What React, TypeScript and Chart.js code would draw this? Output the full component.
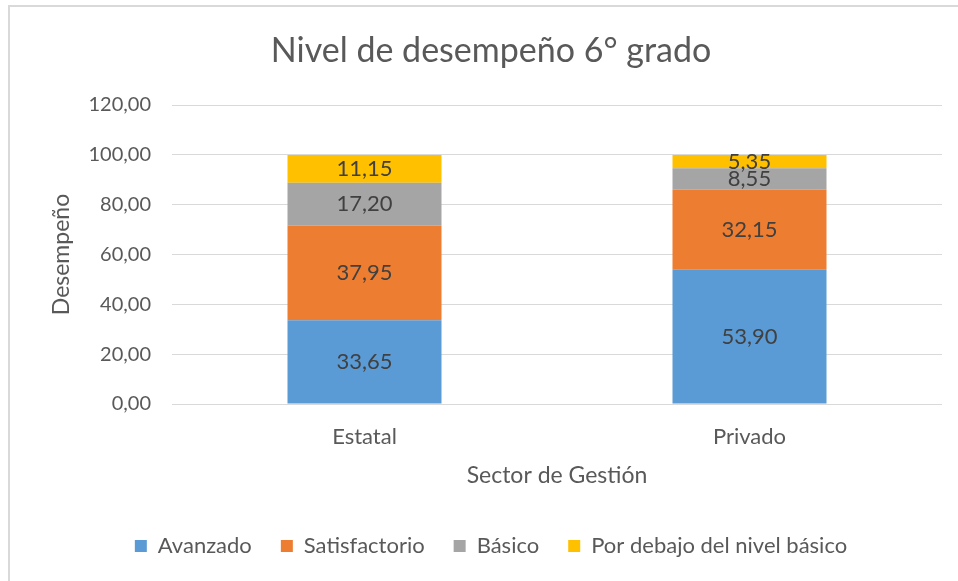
import React, { useEffect, useRef } from "react";
import { Chart, registerables } from "chart.js";

Chart.register(...registerables);

const categories = ["Estatal", "Privado"];
const seriesNames = ["Avanzado", "Satisfactorio", "Básico", "Por debajo del nivel básico"];
const avanzado = [33.65, 53.9];
const satisfactorio = [37.95, 32.15];
const basico = [17.2, 8.55];
const porDebajo = [11.15, 5.35];
const seriesColors = ["#5B9BD5", "#ED7D31", "#A5A5A5", "#FFC000"];
const yTicks = [0, 20, 40, 60, 80, 100, 120];

const FONT = "Lato";
const fmt = (v: number) => v.toFixed(2).replace(".", ",");

const labelPlugin = {
  id: "segLabels",
  afterDatasetsDraw(chart: any) {
    const ctx = chart.ctx;
    ctx.save();
    ctx.fillStyle = "#404040";
    ctx.font = `22px ${FONT}`;
    ctx.textAlign = "center";
    ctx.textBaseline = "middle";
    chart.data.datasets.forEach((ds: any, i: number) => {
      const meta = chart.getDatasetMeta(i);
      meta.data.forEach((el: any, j: number) => {
        const v = ds.data[j];
        const y = (el.y + el.base) / 2;
        ctx.fillText(fmt(v), el.x, y);
      });
    });
    ctx.restore();
  },
};

export default function App() {
  const ref = useRef<HTMLCanvasElement>(null);
  useEffect(() => {
    if (!ref.current) return;
    const values = [avanzado, satisfactorio, basico, porDebajo];
    const chart = new Chart(ref.current, {
      type: "bar",
      data: {
        labels: categories,
        datasets: seriesNames.map((name, i) => ({
          label: name,
          data: values[i],
          backgroundColor: seriesColors[i],
          borderWidth: 0,
          barPercentage: 0.4,
          categoryPercentage: 1,
        })),
      },
      options: {
        responsive: false,
        animation: false,
        devicePixelRatio: 1,
        layout: { padding: { left: 40, right: 16, top: 0, bottom: 14 } },
        plugins: {
          title: {
            display: true,
            text: "Nivel de desempeño 6° grado",
            color: "#595959",
            font: { family: FONT, size: 34, weight: "normal" },
            padding: { top: 30.6, bottom: 33.6 },
          },
          legend: {
            position: "bottom",
            labels: {
              color: "#595959",
              font: { family: FONT, size: 22 },
              boxWidth: 12,
              boxHeight: 12,
              padding: 29,
            },
          },
          tooltip: { enabled: false },
        },
        scales: {
          x: {
            stacked: true,
            grid: { display: false, drawTicks: false },
            border: { display: false },
            ticks: { color: "#595959", font: { family: FONT, size: 22 }, padding: 20 },
            title: {
              display: true,
              text: "Sector de Gestión",
              color: "#595959",
              font: { family: FONT, size: 23 },
              padding: { top: 0, bottom: 17 },
            },
            afterFit: (s: any) => {
              s.height = 102;
            },
          },
          y: {
            stacked: true,
            min: 0,
            max: 120,
            grid: { color: "#D9D9D9", drawTicks: false, lineWidth: 1 },
            border: { display: false },
            afterBuildTicks: (s: any) => {
              s.ticks = yTicks.map((v) => ({ value: v }));
            },
            ticks: {
              color: "#595959",
              font: { family: FONT, size: 20 },
              padding: 21,
              callback: (v: any) => fmt(Number(v)),
            },
            title: {
              display: true,
              text: "Desempeño",
              color: "#595959",
              font: { family: FONT, size: 23 },
              padding: { top: 8, bottom: 0 },
            },
            afterFit: (s: any) => {
              s.width = 132;
            },
          },
        },
      },
      plugins: [labelPlugin],
    });
    return () => chart.destroy();
  }, []);

  return (
    <div>
      <div
        style={{
          position: "fixed",
          left: 8,
          top: 5,
          width: 960,
          height: 600,
          borderTop: "2px solid #D9D9D9",
          borderLeft: "2px solid #D9D9D9",
          boxSizing: "border-box",
        }}
      />
      <canvas
        ref={ref}
        width={958}
        height={581}
        style={{ position: "fixed", left: 0, top: 0, width: 958, height: 581 }}
      />
    </div>
  );
}
